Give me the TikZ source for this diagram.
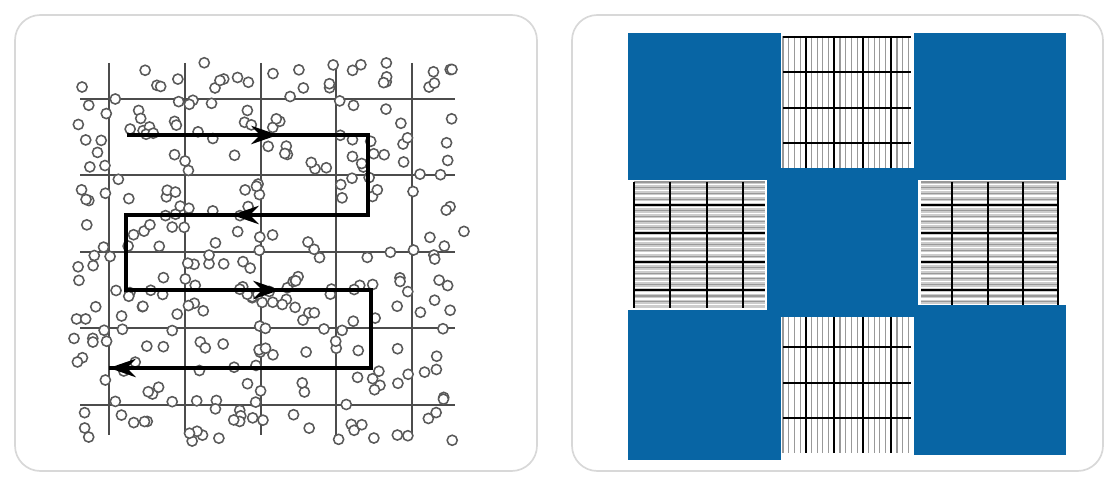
\documentclass[tikz,border=0pt]{standalone}
\usetikzlibrary{arrows.meta}
\definecolor{plateblue}{RGB}{8,101,164}
\definecolor{framegray}{RGB}{216,216,216}
\tikzset{
  panel/.style={draw=framegray, line width=1.2pt, rounded corners=18pt},
  gridline/.style={black!70, line width=1pt},
  bubble/.style={draw=black!65, fill=white, line width=1.1pt},
  snake/.style={black, line width=2.7pt, line join=miter},
  tip/.style={-{Stealth[length=19pt,width=13pt]}},
  block/.style={fill=plateblue},
  fine/.style={black!40, line width=0.8pt},
  pale/.style={white, line width=1pt},
  coarse/.style={black, line width=1.3pt},
}
\begin{document}
\begin{tikzpicture}[x=0.025cm, y=-0.025cm]
        \useasboundingbox (0,0) rectangle (1110,477);
        % Cornici
        \draw [panel] (15,15) rectangle (537,471);
        \draw [panel] (572,15) rectangle (1103,471);
        % Griglia sinistra
        \foreach \x in {109,185,261,336,412}
            \draw [gridline] (\x,63) -- (\x,435);
        \foreach \y in {99,175,252,328,405}
            \draw [gridline] (80,\y) -- (455,\y);
        % Particelle
        \pgfmathsetseed{41}
        \foreach \i in {1,...,300}{
            \pgfmathsetmacro\bx{74+390*rnd}
            \pgfmathsetmacro\by{62+380*rnd}
            \draw [bubble] (\bx,\by) circle (3.6pt);
        }
        % Percorso
        \coordinate (s0) at (127,135);
        \coordinate (s1) at (368,135);
        \coordinate (s2) at (368,215);
        \coordinate (s3) at (126,215);
        \coordinate (s4) at (126,290);
        \coordinate (s5) at (371,290);
        \coordinate (s6) at (371,368);
        \coordinate (s7) at (109,368);
        \coordinate (a1) at (278,135);
        \coordinate (a2) at (232,215);
        \coordinate (a3) at (280,290);
        \draw [snake] (s0) -- (s1) -- (s2) -- (s3) -- (s4) -- (s5) -- (s6) -- (s7);
        \draw [snake,tip] (s0) -- (a1);
        \draw [snake,tip] (s2) -- (a2);
        \draw [snake,tip] (s4) -- (a3);
        \draw [snake,tip] (s6) -- (s7);
        % Griglie verticali (alto e basso)
        \foreach \ya/\yb in {36/168,317/453}{
            \fill [white] (783,\ya) rectangle (911,\yb);
            \foreach \k in {0,...,22}
                \draw [fine] (783+\k*5.7,\ya) -- (783+\k*5.7,\yb);
            \foreach \k in {4,9,14,19}
                \draw [coarse] (783+\k*5.7,\ya) -- (783+\k*5.7,\yb);
        }
        \foreach \y in {37,72,108,143,347,383,418}
            \draw [coarse] (783,\y) -- (911,\y);
        % Griglie orizzontali (sinistra e destra)
        \foreach \xa/\xb in {634/765,921/1059}{
            \fill [black!20] (\xa,182) rectangle (\xb,308);
            \foreach \k in {0,...,21}{
                \draw [pale] (\xa,184.8+\k*5.7) -- (\xb,184.8+\k*5.7);
                \draw [fine] (\xa,182+\k*5.7) -- (\xb,182+\k*5.7);
            }
            \foreach \k in {4,9,14,19}
                \draw [coarse] (\xa,182+\k*5.7) -- (\xb,182+\k*5.7);
        }
        \foreach \x in {634,670,707,743,952,988,1023,1058}
            \draw [coarse] (\x,182) -- (\x,308);
        % Blocchi
        \fill [block] (628,33) rectangle (781,180);
        \fill [block] (914,33) rectangle (1066,180);
        \fill [block] (767,168) rectangle (918,317);
        \fill [block] (628,310) rectangle (781,460);
        \fill [block] (914,305) rectangle (1066,455);
    \end{tikzpicture}
\end{document}
